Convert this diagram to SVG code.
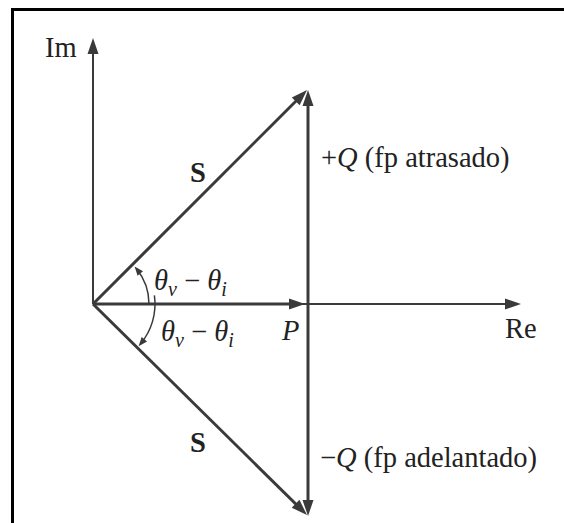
<svg xmlns="http://www.w3.org/2000/svg" width="564" height="523" viewBox="0 0 564 523">
<style>
  text { font-family: "Liberation Serif", Tinos, "DejaVu Serif", "Times New Roman", serif; font-size: 28.5px; fill: #222; }
  .it { font-style: italic; }
  .sub { font-style: italic; font-size: 20px; }
  .bold { font-weight: bold; }
  .axis { stroke: #3a3a3a; stroke-width: 2; fill: none; }
  .vec { stroke: #3a3a3a; stroke-width: 3; fill: none; }
  .arc { stroke: #3a3a3a; stroke-width: 1.5; fill: none; }
</style>
<defs>
  <marker id="ah" markerUnits="userSpaceOnUse" markerWidth="20" markerHeight="20" refX="10" refY="0" orient="auto" overflow="visible">
    <path d="M16,0 L0,-5.5 L0,5.5 Z" fill="#3a3a3a"/>
  </marker>
  <marker id="sah" markerUnits="userSpaceOnUse" markerWidth="12" markerHeight="12" refX="6" refY="0" orient="auto" overflow="visible">
    <path d="M9,0 L0,-3.5 L0,3.5 Z" fill="#3a3a3a"/>
  </marker>
</defs>
<rect width="564" height="523" fill="#fff"/>
<g id="frame" stroke="#000" stroke-width="3">
  <line x1="11" y1="9.5" x2="564" y2="9.5"/>
  <line x1="12.5" y1="8" x2="12.5" y2="523"/>
</g>
<g id="connectors">
  <line class="axis" x1="93" y1="304" x2="93" y2="44" marker-end="url(#ah)"/>
  <line class="axis" x1="93" y1="304" x2="515" y2="304" marker-end="url(#ah)"/>
  <line class="vec" x1="93" y1="304" x2="299" y2="304" marker-end="url(#ah)"/>
  <line class="vec" x1="93" y1="304" x2="302.8" y2="94.2" marker-end="url(#ah)"/>
  <line class="vec" x1="93" y1="304" x2="302.7" y2="510.8" marker-end="url(#ah)"/>
  <line class="vec" x1="308" y1="304" x2="308" y2="96" marker-end="url(#ah)"/>
  <line class="vec" x1="308" y1="304" x2="308" y2="510" marker-end="url(#ah)"/>
  <path class="arc" d="M149,304 A56,56 0 0 0 136.5,268.8" marker-end="url(#sah)"/>
  <path class="arc" d="M154.4,295.4 A62,62 0 0 1 140.5,343.9" marker-end="url(#sah)"/>
</g>
<g id="labels">
  <text x="45" y="57">Im</text>
  <text x="505" y="338">Re</text>
  <text x="282" y="340" class="it">P</text>
  <text x="190" y="182" class="bold">S</text>
  <text x="190" y="452" class="bold">S</text>
  <text x="321" y="167">+<tspan class="it">Q</tspan> (fp atrasado)</text>
  <text x="320" y="467">−<tspan class="it">Q</tspan> (fp adelantado)</text>
  <text x="154" y="290"><tspan class="it">θ</tspan><tspan class="sub" dy="6">v</tspan><tspan dy="-6"> − </tspan><tspan class="it">θ</tspan><tspan class="sub" dy="6">i</tspan></text>
  <text x="161" y="341"><tspan class="it">θ</tspan><tspan class="sub" dy="6">v</tspan><tspan dy="-6"> − </tspan><tspan class="it">θ</tspan><tspan class="sub" dy="6">i</tspan></text>
</g>
</svg>
